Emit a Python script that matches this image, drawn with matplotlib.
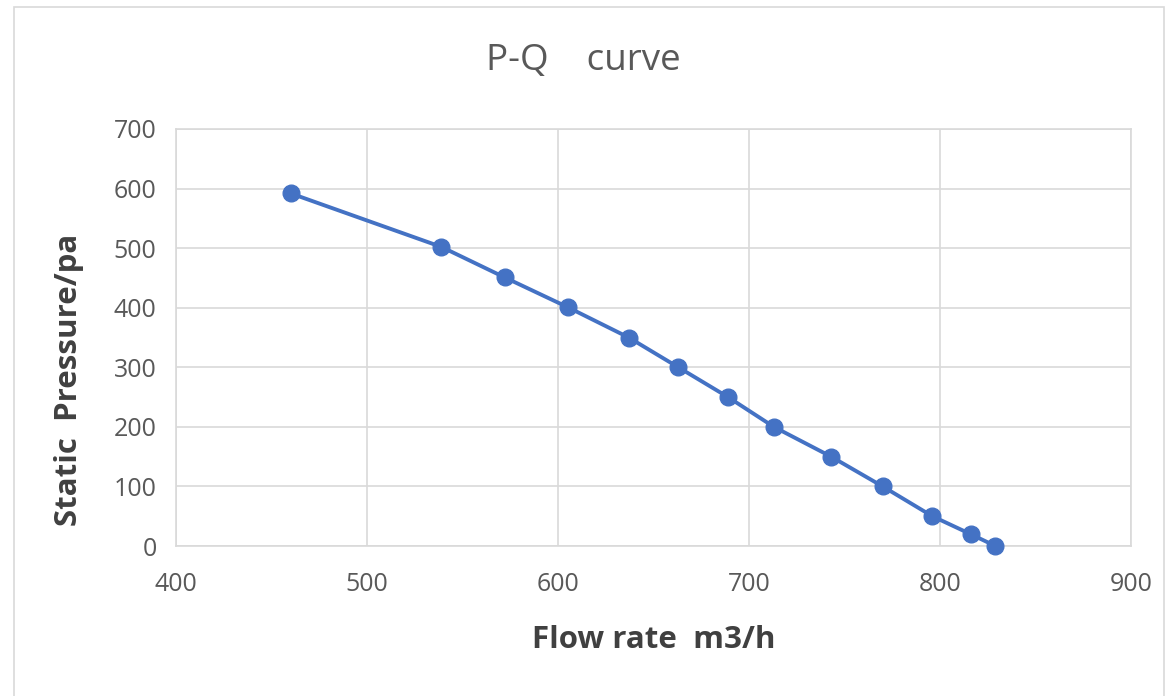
import matplotlib.pyplot as plt
from matplotlib.patches import Rectangle

flow = [460, 539, 572, 605, 637, 663, 689, 713, 743, 770, 796, 816, 829]
pressure = [592, 502, 451, 401, 350, 300, 250, 200, 150, 100, 50, 20, 0]

x_ticks = [400, 500, 600, 700, 800, 900]
y_ticks = [0, 100, 200, 300, 400, 500, 600, 700]

plt.rcParams['font.family'] = ['Open Sans', 'DejaVu Sans']

fig = plt.figure(figsize=(11.66, 6.96), dpi=100)
fig.patches.append(Rectangle((14 / 1166, -0.01), 1150 / 1166, 1 - 7 / 696 + 0.01,
                             transform=fig.transFigure, fill=False,
                             edgecolor='#d9d9d9', linewidth=1.2))

ax = fig.add_axes([176 / 1166, 1 - 546 / 696, (1131 - 176) / 1166, (546 - 129) / 696])
ax.plot(flow, pressure, color='#4472c4', linewidth=2.8, marker='o',
        markersize=12, zorder=3, clip_on=False)

ax.set_xlim(400, 900)
ax.set_ylim(0, 700)
ax.set_xticks(x_ticks)
ax.set_yticks(y_ticks)
ax.grid(True, color='#d9d9d9', linewidth=1.2)
ax.set_axisbelow(True)
for s in ax.spines.values():
    s.set_color('#d9d9d9')
    s.set_linewidth(1.2)
ax.tick_params(length=0, colors='#595959', labelsize=18)
ax.tick_params(axis='y', pad=14)
ax.tick_params(axis='x', pad=19)

ax.set_xlabel('Flow rate  m3/h', fontsize=22.5, fontweight='bold', color='#404040', va='center')
ax.xaxis.set_label_coords(0.5, -0.225)
ax.set_ylabel('Static  Pressure/pa', fontsize=22.5, fontweight='bold', color='#404040', va='center')
ax.yaxis.set_label_coords(-0.112, 0.398)
fig.text(583 / 1166, 1 - 61 / 696, 'P-Q    curve', ha='center', va='center',
         fontsize=26.5, color='#595959')

plt.savefig('out.png', dpi=100)
